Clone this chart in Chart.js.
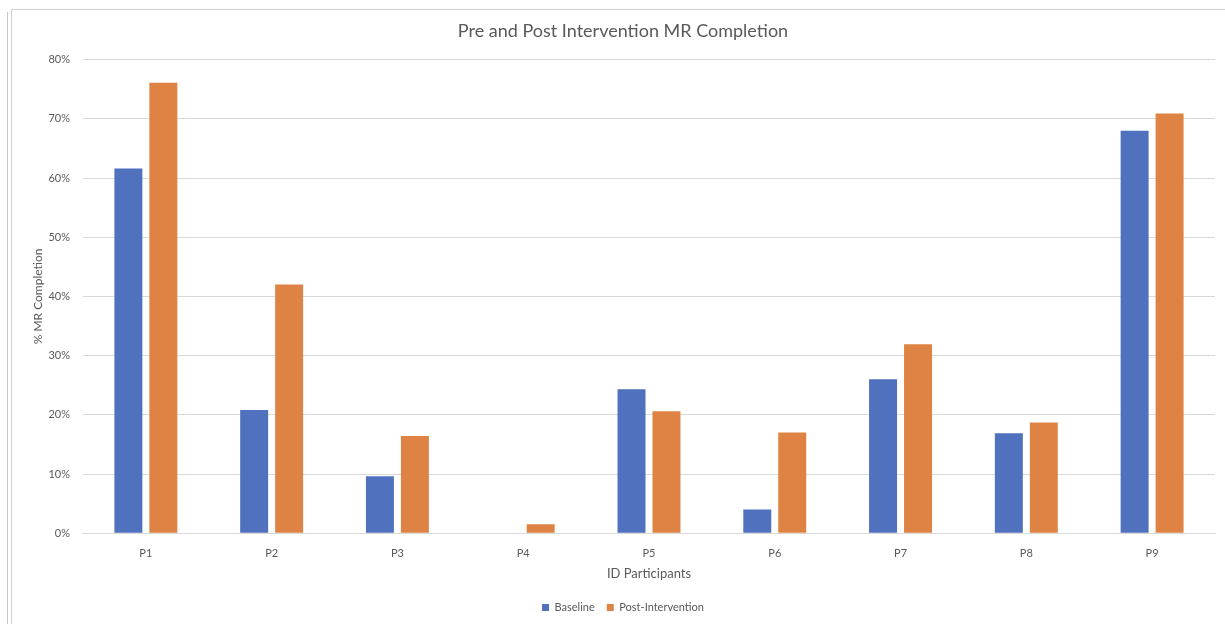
<!DOCTYPE html>
<html>
<head>
<meta charset="utf-8">
<title>Pre and Post Intervention MR Completion</title>
<script src="https://cdn.jsdelivr.net/npm/chart.js@4/dist/chart.umd.min.js"></script>
<style>
  html, body { margin: 0; padding: 0; background: #fff; }
  #wrap { position: relative; width: 1225px; height: 624px; overflow: hidden; }
  /* excel selection frame left over in the screenshot */
  .frame-outer { position: absolute; left: 7px; top: 12px; bottom: 0; border-left: 1px solid #c8c8c8; }
  .frame-inner { position: absolute; left: 11px; top: 9px; right: 0; bottom: 0; border-left: 1px solid #d0d0d0; border-top: 1px solid #d0d0d0; }
  #chart { position: absolute; left: 0; top: 0; }
</style>
</head>
<body>
<div id="wrap">
  <div class="frame-outer"></div>
  <div class="frame-inner"></div>
  <canvas id="chart" width="1225" height="624"></canvas>
</div>
<script>
var participants = ['P1', 'P2', 'P3', 'P4', 'P5', 'P6', 'P7', 'P8', 'P9'];
var baseline = [0.616, 0.208, 0.096, 0, 0.243, 0.040, 0.260, 0.169, 0.680];
var postIntervention = [0.761, 0.420, 0.164, 0.015, 0.206, 0.170, 0.319, 0.187, 0.709];
var yTicks = [0, 0.1, 0.2, 0.3, 0.4, 0.5, 0.6, 0.7, 0.8];

(function(Chart) {
  'use strict';

  var textColor = '#595959';
  var gridColor = '#d9d9d9';
  var fontFamily = 'Lato, "Open Sans", sans-serif';

  Chart.defaults.font.family = fontFamily;
  Chart.defaults.color = textColor;

  var ctx = document.getElementById('chart').getContext('2d');

  new Chart(ctx, {
    type: 'bar',
    data: {
      labels: participants,
      datasets: [
        {
          label: 'Baseline',
          data: baseline,
          backgroundColor: '#4f71be',
          barPercentage: 0.8,
          categoryPercentage: 0.556
        },
        {
          label: 'Post-Intervention',
          data: postIntervention,
          backgroundColor: '#de8344',
          barPercentage: 0.8,
          categoryPercentage: 0.556
        }
      ]
    },
    options: {
      responsive: false,
      animation: false,
      layout: {
        padding: { top: 6, right: 10, bottom: 1, left: 31 }
      },
      plugins: {
        title: {
          display: true,
          text: 'Pre and Post Intervention MR Completion',
          color: textColor,
          font: { size: 18, weight: 'normal' },
          padding: { top: 14, bottom: 18 }
        },
        legend: {
          position: 'bottom',
          labels: {
            boxWidth: 7,
            boxHeight: 7,
            color: textColor,
            font: { size: 11 },
            padding: 12
          }
        },
        tooltip: { enabled: false }
      },
      scales: {
        x: {
          grid: { display: false, drawTicks: false },
          border: { color: gridColor },
          ticks: { color: textColor, font: { size: 11 }, padding: 14 },
          title: {
            display: true,
            text: 'ID Participants',
            color: textColor,
            font: { size: 13 },
            padding: { top: -8, bottom: 8 }
          }
        },
        y: {
          min: 0,
          max: 0.8,
          afterBuildTicks: function(axis) {
            axis.ticks = yTicks.map(function(v) { return { value: v }; });
          },
          grid: { color: gridColor, drawTicks: false },
          border: { display: false },
          ticks: {
            color: textColor,
            font: { size: 11 },
            padding: 13,
            callback: function(v) { return Math.round(v * 100) + '%'; }
          },
          title: {
            display: true,
            text: '% MR Completion',
            color: textColor,
            font: { size: 12 },
            padding: { top: 0, bottom: -10 }
          }
        }
      }
    }
  });

}(Chart));
</script>
</body>
</html>
